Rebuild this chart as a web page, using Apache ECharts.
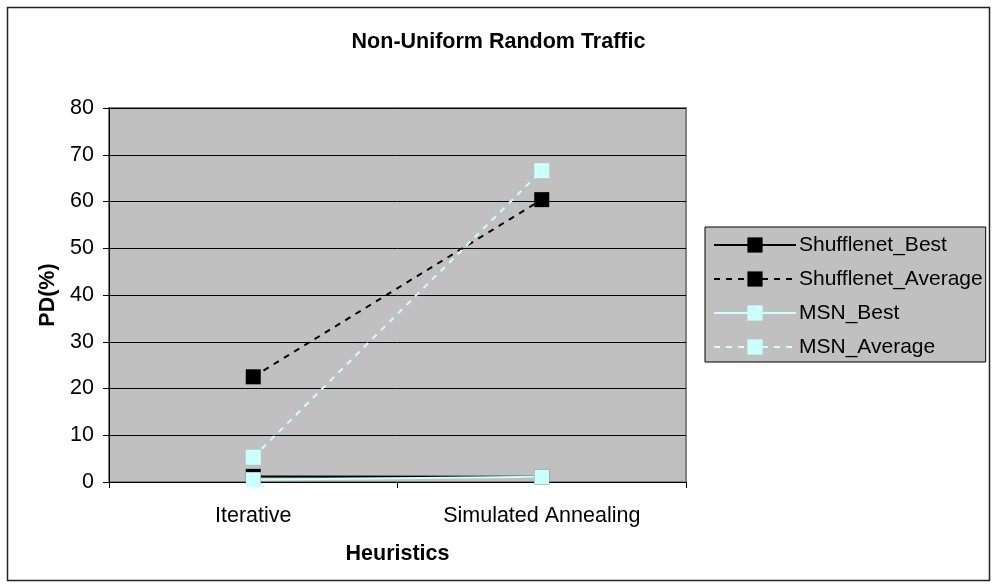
<!DOCTYPE html>
<html>
<head>
<meta charset="utf-8">
<script src="https://cdn.jsdelivr.net/npm/echarts@6/dist/echarts.min.js"></script>
<style>
html,body{margin:0;padding:0;background:#fff;}
#c{width:997px;height:588px;}
</style>
</head>
<body>
<div id="c"></div>
<script>
var categories = ['Iterative', 'Simulated Annealing'];
var shufflenetBest = [1.2, 1.1];
var shufflenetAverage = [22.5, 60.4];
var msnBest = [0.5, 1.1];
var msnAverage = [5.3, 66.6];
var yTicks = {min: 0, max: 80, interval: 10};

var FONT = 'Liberation Sans, Arial, sans-serif';
var CYAN = '#CCFFFF';
var FS = 21.5;

var chart = echarts.init(document.getElementById('c'), null, {renderer: 'canvas'});

function mkSeries(name, data, color, dashed) {
  return {
    name: name,
    type: 'line',
    data: data,
    symbol: 'rect',
    symbolSize: 15,
    showSymbol: true,
    itemStyle: {color: color},
    lineStyle: {color: color, width: 2, type: dashed ? [6, 6] : 'solid'},
    emphasis: {disabled: true},
    animation: false,
    z: 3
  };
}

chart.setOption({
  animation: false,
  backgroundColor: '#ffffff',
  textStyle: {fontFamily: FONT},
  title: {
    text: 'Non-Uniform Random Traffic',
    left: 'center',
    top: 26,
    textStyle: {fontFamily: FONT, fontSize: FS, fontWeight: 'bold', color: '#000'}
  },
  graphic: [{
    type: 'rect',
    shape: {x: 7.5, y: 7.5, width: 982, height: 573},
    style: {fill: 'none', stroke: '#222', lineWidth: 1.5},
    silent: true,
    z: -10
  }],
  grid: {
    left: 109, right: 311, top: 108, bottom: 106,
    show: true,
    backgroundColor: '#C0C0C0',
    borderColor: '#808080',
    borderWidth: 2,
    containLabel: false
  },
  legend: {
    orient: 'vertical',
    left: 705,
    top: 227,
    padding: [6, 3, 3, 8],
    itemGap: 10,
    itemWidth: 82,
    itemHeight: 19,
    backgroundColor: '#C0C0C0',
    borderColor: '#000',
    borderWidth: 1,
    borderRadius: 0,
    selectedMode: false,
    textStyle: {fontFamily: FONT, fontSize: 21, color: '#000', lineHeight: 24, padding: [0, 0, 0, -2]},
    data: ['Shufflenet_Best', 'Shufflenet_Average', 'MSN_Best', 'MSN_Average']
  },
  xAxis: {
    type: 'category',
    data: categories,
    boundaryGap: true,
    name: 'Heuristics',
    nameLocation: 'middle',
    nameGap: 61,
    nameTextStyle: {fontFamily: FONT, fontSize: FS, fontWeight: 'bold', color: '#000'},
    axisLine: {lineStyle: {color: '#000', width: 1}},
    axisTick: {show: true, length: 6, inside: false, lineStyle: {color: '#000'}},
    axisLabel: {fontFamily: FONT, fontSize: FS, color: '#000', margin: 23},
    splitLine: {show: false}
  },
  yAxis: {
    type: 'value',
    min: yTicks.min,
    max: yTicks.max,
    interval: yTicks.interval,
    name: 'PD(%)',
    nameLocation: 'middle',
    nameGap: 43,
    nameRotate: 90,
    nameTextStyle: {fontFamily: FONT, fontSize: FS, fontWeight: 'bold', color: '#000'},
    axisLine: {show: true, lineStyle: {color: '#000', width: 1}},
    axisTick: {show: true, length: 6, inside: false, lineStyle: {color: '#000'}},
    axisLabel: {fontFamily: FONT, fontSize: FS, color: '#000', margin: 15},
    splitLine: {show: true, lineStyle: {color: '#000', width: 1}}
  },
  series: [
    mkSeries('Shufflenet_Best', shufflenetBest, '#000000', false),
    mkSeries('Shufflenet_Average', shufflenetAverage, '#000000', true),
    mkSeries('MSN_Best', msnBest, CYAN, false),
    mkSeries('MSN_Average', msnAverage, CYAN, true)
  ]
});
</script>
</body>
</html>
